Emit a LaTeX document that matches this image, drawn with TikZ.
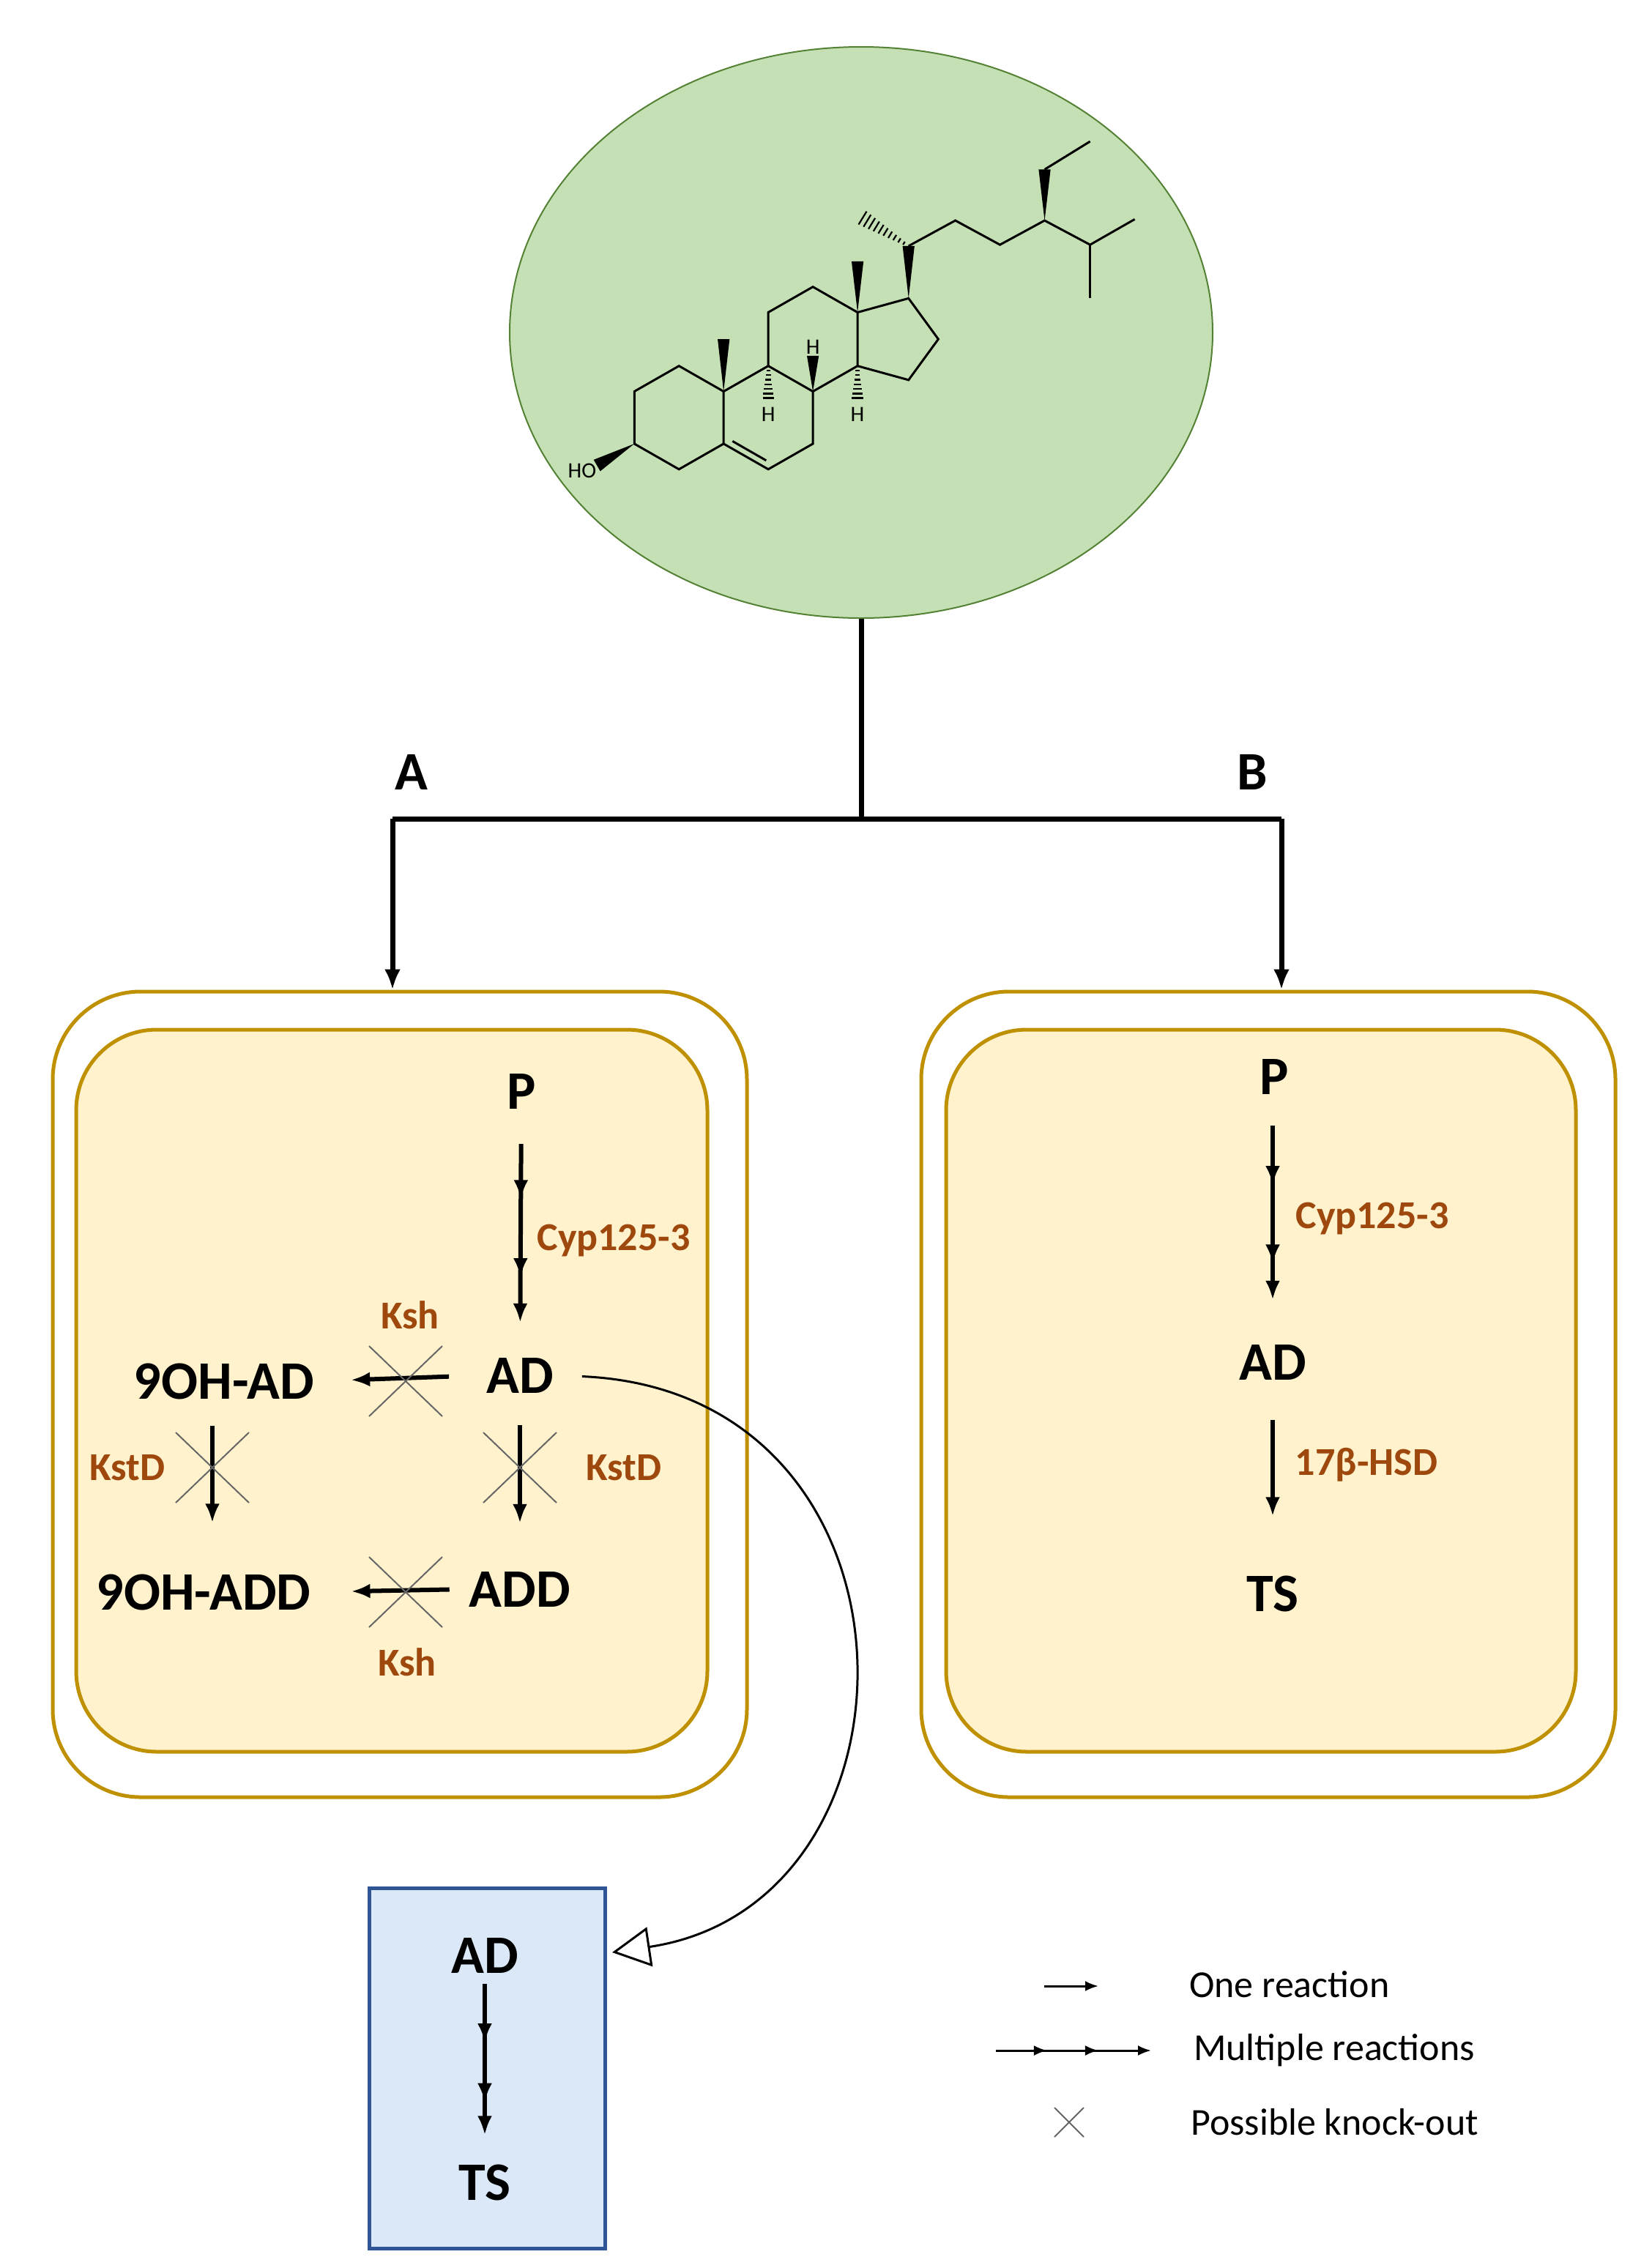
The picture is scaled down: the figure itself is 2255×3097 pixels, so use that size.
\documentclass[tikz,border=0pt]{standalone}
\usepackage{fontspec}
\setmainfont{Carlito}
\usetikzlibrary{arrows.meta,decorations.markings,shapes.geometric}
\definecolor{gold}{RGB}{191,144,0}
\definecolor{cream}{RGB}{255,242,204}
\definecolor{brn}{RGB}{158,72,14}
\definecolor{leaf}{RGB}{197,224,180}
\definecolor{leafd}{RGB}{84,130,53}
\definecolor{bluef}{RGB}{218,232,247}
\definecolor{blued}{RGB}{47,85,151}
\begin{document}
\begin{tikzpicture}[x=1pt,y=-1pt,
  big/.style={font=\fontsize{74}{74}\selectfont\bfseries, inner sep=3pt},
  enz/.style={font=\fontsize{54}{54}\selectfont\bfseries, text=brn, inner sep=2pt},
  leg/.style={font=\fontsize{52}{52}\selectfont, anchor=west, inner sep=0pt},
  arr/.style={line width=6pt, -{Latex[length=26pt,width=20pt]}},
  multi/.style={arr, postaction={decorate}, decoration={markings,
     mark=at position 0.36 with {\arrow{Latex[length=26pt,width=20pt]}},
     mark=at position 0.68 with {\arrow{Latex[length=26pt,width=20pt]}}}},
  ko/.style={line width=2pt, draw=black!60},
  outer/.style={draw=gold, line width=5pt, rounded corners=120pt, fill=white},
  inner/.style={draw=gold, line width=5pt, rounded corners=110pt, fill=cream},
  bond/.style={line width=3pt, line join=miter},
  bracket/.style={line width=7pt}
]
\useasboundingbox (0,0) rectangle (2255,3097);
% ellipse
\node (sterol) [draw=leafd, line width=2pt, fill=leaf, ellipse, minimum width=960pt, minimum height=780pt, inner sep=0pt] at (1176,454) {};
% molecule
\begin{scope}[shift={(760,160)}, xscale=0.5806, yscale=0.3484]
 \draw[bond] (183,1280)--(183,1075)--(288,975)--(393,1075)--(393,1280)--(288,1380)--cycle;
 \draw[bond] (393,1280)--(498,1380)--(603,1280)--(603,1075)--(498,975)--(393,1075);
 \draw[bond] (498,975)--(498,765)--(603,665)--(708,765)--(708,975)--(603,1075);
 \draw[bond] (708,975)--(828,1030)--(898,870)--(828,710)--(708,765);
 \draw[bond] (828,505)--(938,405)--(1043,500)--(1148,405)--(1255,500)--(1360,400);
 \draw[bond] (1255,500)--(1255,710);
 \draw[bond] (1148,205)--(1255,95);
 % wedges
 \fill (393,1075)--(379,870)--(407,870)--cycle;
 \fill (708,765)--(694,565)--(722,565)--cycle;
 \fill (828,710)--(814,505)--(842,505)--cycle;
 \fill (1148,405)--(1134,205)--(1162,205)--cycle;
 \fill (603,1075)--(589,935)--(617,935)--cycle;
 % hashes
 \foreach \t in {0.12,0.24,...,0.96}{
   \draw[line width=2.5pt] ({498-3-12*\t},{975+150*\t})--({498+3+12*\t},{975+150*\t});
   \draw[line width=2.5pt] ({708-3-12*\t},{975+150*\t})--({708+3+12*\t},{975+150*\t});
 }
 \node[font=\fontsize{30}{30}\selectfont, inner sep=0pt] (h9) at (498,1165) {H};
 \node[font=\fontsize{30}{30}\selectfont, inner sep=0pt] (h14) at (708,1165) {H};
 \node[font=\fontsize{30}{30}\selectfont, inner sep=0pt] (h8) at (603,900) {H};
 \node[font=\fontsize{30}{30}\selectfont, inner sep=0pt] (ho) at (60,1385) {HO};
\end{scope}
% full-coordinate molecule details
\fill (866.2,606.0)--(819.7,643.4)--(810.7,627.8)--cycle;
\draw[bond] (1000.3,602.4)--(1046.3,628.8);
\foreach \t in {0.1,0.2,...,1.0}{
  \pgfmathsetmacro\px{1240.7-62.7*\t}
  \pgfmathsetmacro\py{335.9-38.3*\t}
  \pgfmathsetmacro\h{1.5+9*\t}
  \draw[line width=2.2pt] ({\px-\h*0.521},{\py+\h*0.853})--({\px+\h*0.521},{\py-\h*0.853});
}
% bracket
\coordinate (junc) at (1176,1118);
\coordinate (jl) at (536,1118);
\coordinate (jr) at (1750,1118);
\draw[bracket] (sterol.south)--(junc);
\draw[bracket] (jl)--(jr);
\node[big] (labA) at (562,1054) {A};
\node[big] (labB) at (1710,1054) {B};
% boxes
\node (outL) [outer, minimum width=948pt, minimum height=1100pt] at (546,1904) {};
\node (inL) [inner, minimum width=862pt, minimum height=986pt] at (535,1899) {};
\node (outR) [outer, minimum width=948pt, minimum height=1100pt] at (1732,1904) {};
\node (inR) [inner, minimum width=860pt, minimum height=986pt] at (1722,1899) {};
\draw[bracket, -{Latex[length=28pt,width=22pt]}] (jl) -- (jl |- outL.north);
\draw[bracket, -{Latex[length=28pt,width=22pt]}] (jr) -- (jr |- outR.north);
% left content
\node[big] (PL) at (712,1490) {P};
\node[big] (ADL) at (710,1878) {AD};
\node[big] (OHAD) at (306,1886) {9OH-AD};
\node[big] (OHADD) at (278,2174) {9OH-ADD};
\node[big] (ADD) at (710,2170) {ADD};
\draw[multi, shorten <=45pt, shorten >=45pt] (PL) -- (ADL);
\node[enz] (cypL) at (838,1694) {Cyp125-3};
\node[enz] (kshT) at (560,1796) {Ksh};
\node[enz] (kstL) at (174,2004) {KstD};
\node[enz] (kstR) at (852,2004) {KstD};
\node[enz] (kshB) at (556,2270) {Ksh};
\draw[arr, shorten <=48pt, shorten >=47pt] (ADL.west) -- (OHAD.east);
\draw[arr, shorten <=24pt, shorten >=52pt] (ADD.west) -- (OHADD.east);
\draw[arr, shorten <=33pt, shorten >=67pt] ([xshift=-16pt]OHAD.south) -- ([xshift=12pt]OHADD.north);
\draw[arr, shorten <=41pt, shorten >=63pt] (ADL.south) -- (ADD.north);
\foreach \cx/\cy in {554/1886, 290/2004, 710/2004, 554/2174}{
  \draw[ko] (\cx-50,\cy-48)--(\cx+50,\cy+48);
  \draw[ko] (\cx-50,\cy+48)--(\cx+50,\cy-48);
}
% blue box
\node (blue) [draw=blued, line width=5pt, fill=bluef, minimum width=322pt, minimum height=492pt, inner sep=0pt] at (665,2824) {};
\node[big] (ADb) at (662,2670) {AD};
\node[big] (TSb) at (662,2980) {TS};
\draw[multi, shorten <=12pt, shorten >=37pt] (ADb) -- (TSb);
\coordinate (tip) at (836,2666);
\draw[line width=3pt, -{Triangle[open,length=52pt,width=54pt]}, shorten <=36pt] (ADL.east) .. controls (1280,1900) and (1280,2600) .. (tip);
% right content
\node[big] (PR) at (1740,1470) {P};
\node[big] (ADR) at (1738,1860) {AD};
\node[big] (TSR) at (1738,2176) {TS};
\draw[multi, shorten <=40pt, shorten >=58pt] ([xshift=-2pt]PR.south) -- (ADR.north);
\draw[arr, shorten <=52pt, shorten >=78pt] (ADR.south) -- (TSR.north);
\node[enz] (cypR) at (1874,1664) {Cyp125-3};
\node[enz] (hsd) at (1866,2000) {17β-HSD};
% legend
\coordinate (l1a) at (1426,2712); \coordinate (l1b) at (1500,2712);
\draw[line width=3pt, -{Latex[length=18pt,width=14pt]}] (l1a) -- (l1b);
\node[leg] (t1) at (1624,2710) {One reaction};
\coordinate (l2a) at (1360,2800); \coordinate (l2b) at (1572,2800);
\draw[line width=3pt, -{Latex[length=18pt,width=14pt]}, postaction={decorate}, decoration={markings,
  mark=at position 0.33 with {\arrow{Latex[length=18pt,width=14pt]}},
  mark=at position 0.66 with {\arrow{Latex[length=18pt,width=14pt]}}}] (l2a) -- (l2b);
\node[leg] (t2) at (1630,2800) {Multiple reactions};
\draw[ko] (1440,2878)--(1480,2918); \draw[ko] (1440,2918)--(1480,2878);
\node[leg] (t3) at (1626,2898) {Possible knock-out};
\end{tikzpicture}
\end{document}
